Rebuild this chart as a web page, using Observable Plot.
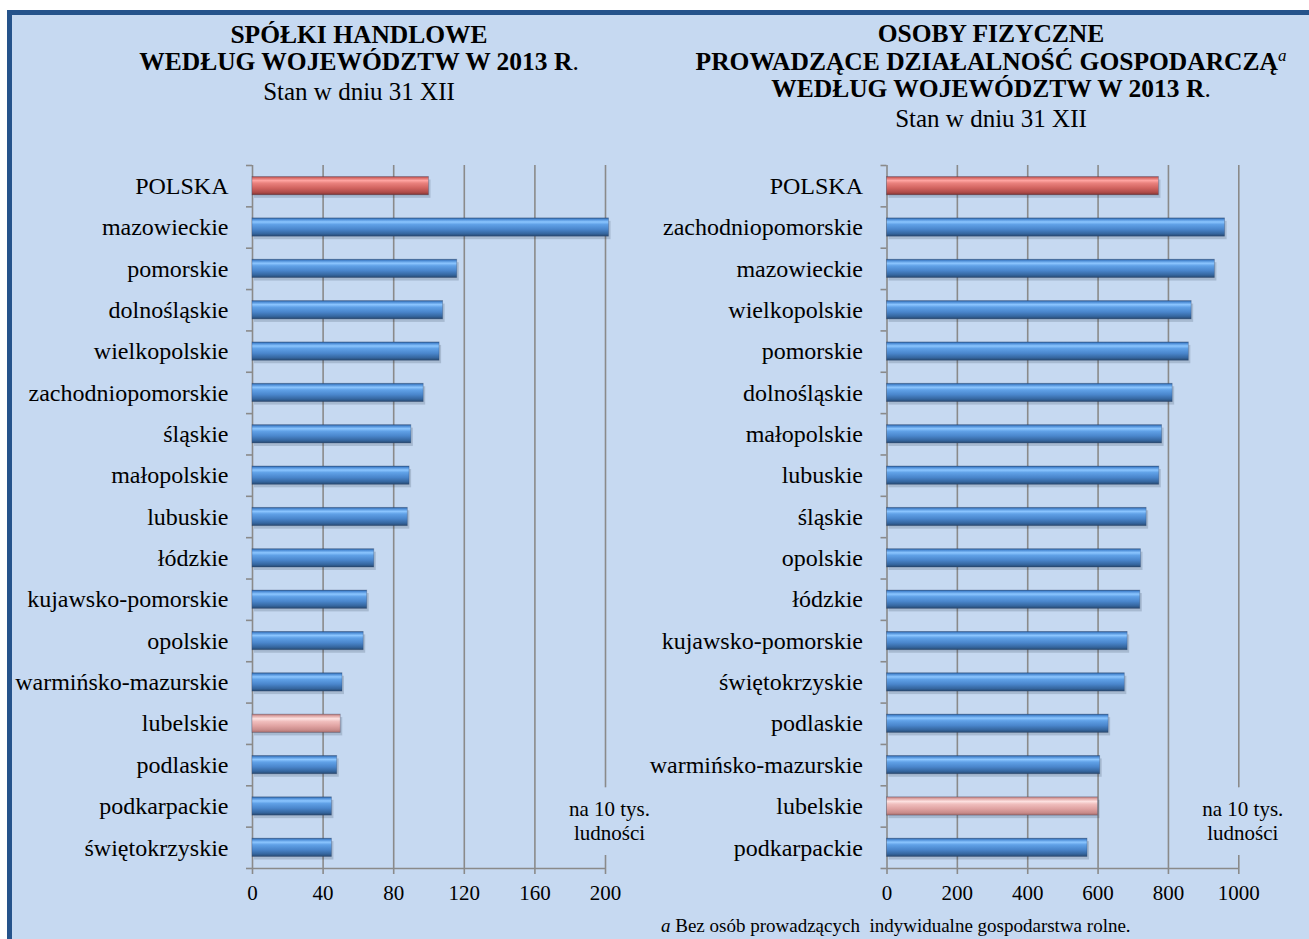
<!DOCTYPE html>
<html>
<head>
<meta charset="utf-8">
<script src="https://cdn.jsdelivr.net/npm/d3@7"></script>
<script src="https://cdn.jsdelivr.net/npm/@observablehq/plot@0.6"></script>
<style>
  html, body { margin: 0; padding: 0; background: #fff; }
  #page { position: relative; width: 1309px; height: 939px; overflow: hidden; background: #fff;
          font-family: "Liberation Serif", "Times New Roman", serif; }
  #panel { position: absolute; left: 7px; top: 10px; right: -20px; bottom: -20px;
           background: #c6d9f1; border-top: 5px solid #25538b; border-left: 5px solid #25538b; }
  #left { position: absolute; left: 0; top: 150px; }
  #right { position: absolute; left: 640px; top: 150px; }
  #overlay { position: absolute; left: 0; top: 0; pointer-events: none; }
</style>
</head>
<body>
<div id="page">
  <div id="panel"></div>
  <svg id="defs" width="0" height="0" style="position:absolute">
    <defs>
      <linearGradient id="gBlue" x1="0" y1="0" x2="0" y2="1">
        <stop offset="0%" stop-color="#2c5a92"/>
        <stop offset="8%" stop-color="#4b8bd5"/>
        <stop offset="22%" stop-color="#8cc6ff"/>
        <stop offset="36%" stop-color="#60a1e7"/>
        <stop offset="62%" stop-color="#4a86cc"/>
        <stop offset="86%" stop-color="#35669f"/>
        <stop offset="100%" stop-color="#27486f"/>
      </linearGradient>
      <linearGradient id="gRed" x1="0" y1="0" x2="0" y2="1">
        <stop offset="0%" stop-color="#a84442"/>
        <stop offset="8%" stop-color="#d86c69"/>
        <stop offset="22%" stop-color="#ffa5a2"/>
        <stop offset="36%" stop-color="#ea817d"/>
        <stop offset="62%" stop-color="#d26460"/>
        <stop offset="86%" stop-color="#b04c49"/>
        <stop offset="100%" stop-color="#7f3432"/>
      </linearGradient>
      <linearGradient id="gPink" x1="0" y1="0" x2="0" y2="1">
        <stop offset="0%" stop-color="#b27575"/>
        <stop offset="10%" stop-color="#dfa6a5"/>
        <stop offset="25%" stop-color="#fde2e1"/>
        <stop offset="40%" stop-color="#f0bebd"/>
        <stop offset="65%" stop-color="#e0a3a2"/>
        <stop offset="88%" stop-color="#c88a89"/>
        <stop offset="100%" stop-color="#9e6867"/>
      </linearGradient>
    </defs>
  </svg>
  <div id="left"></div>
  <div id="right"></div>
  <svg id="overlay" width="1309" height="939"></svg>
</div>
<script>
// ---------- DATA ----------
const regionsCompanies = ["POLSKA","mazowieckie","pomorskie","dolnośląskie","wielkopolskie","zachodniopomorskie","śląskie","małopolskie","lubuskie","łódzkie","kujawsko-pomorskie","opolskie","warmińsko-mazurskie","lubelskie","podlaskie","podkarpackie","świętokrzyskie"];
const valuesCompanies = [100, 202, 116, 108, 106, 97, 90, 89, 88, 69, 65, 63, 51, 50, 48, 45, 45];
const ticksCompanies = [0, 40, 80, 120, 160, 200];

const regionsPersons = ["POLSKA","zachodniopomorskie","mazowieckie","wielkopolskie","pomorskie","dolnośląskie","małopolskie","lubuskie","śląskie","opolskie","łódzkie","kujawsko-pomorskie","świętokrzyskie","podlaskie","warmińsko-mazurskie","lubelskie","podkarpackie"];
const valuesPersons = [773, 961, 932, 866, 858, 812, 782, 774, 738, 722, 720, 684, 676, 630, 606, 600, 570];
const ticksPersons = [0, 200, 400, 600, 800, 1000];

const totalName = "POLSKA";
const highlightNames = ["lubelskie"];
const unitLabel = "na 10 tys.\nludności";

const titleCompanies = ["SPÓŁKI HANDLOWE", "WEDŁUG WOJEWÓDZTW W 2013 R"];
const titlePersons = ["OSOBY FIZYCZNE", "PROWADZĄCE DZIAŁALNOŚĆ GOSPODARCZĄ", "WEDŁUG WOJEWÓDZTW W 2013 R"];
const subtitle = "Stan w dniu 31 XII";
const footnoteMark = "a";
const footnoteText = " Bez osób prowadzących\u00a0 indywidualne gospodarstwa rolne.";

// ---------- STYLE ----------
const BG = "#c6d9f1";
const GRID = "#8a8a8a";
const FONT = "'Liberation Serif', 'Times New Roman', serif";

function fillFor(name) {
  if (name === totalName) return "url(#gRed)";
  if (highlightNames.includes(name)) return "url(#gPink)";
  return "url(#gBlue)";
}

function makeChart(regions, values, ticks, width, marginLeft, marginRight) {
  const data = regions.map((r, i) => ({region: r, value: values[i]}));
  const height = 770, marginTop = 15, marginBottom = 52;
  const step = (height - marginTop - marginBottom) / regions.length;
  const last = regions[regions.length - 1];
  const labelOpts = {x: () => ticks[ticks.length - 1], y: () => regions[regions.length - 2], text: d => d,
                     dy: 14, dx: 4, fontSize: 21, lineHeight: 1.15};
  return Plot.plot({
    width, height, marginLeft, marginRight, marginTop, marginBottom,
    style: {background: "transparent", fontFamily: FONT, color: "#000", overflow: "visible"},
    x: {domain: [ticks[0], ticks[ticks.length - 1]], axis: null},
    y: {domain: regions, paddingInner: 0.557, paddingOuter: 0.2785, round: false, axis: null},
    color: {type: "identity"},
    marks: [
      Plot.ruleX(ticks, {stroke: GRID, strokeWidth: 1.6}),
      Plot.ruleY([last], {dy: step / 2, stroke: GRID, strokeWidth: 1.6}),
      Plot.axisY({tickSize: 6, tickFormat: () => "", dy: -step / 2, stroke: GRID, strokeWidth: 1.6, label: null}),
      Plot.axisY([last], {tickSize: 6, tickFormat: () => "", dy: step / 2, stroke: GRID, strokeWidth: 1.6, label: null}),
      Plot.axisY({tickSize: 0, tickPadding: 24, fontSize: 24, fill: "#000", label: null}),
      Plot.axisX({ticks, tickSize: 6, tickPadding: 11, fontSize: 21, fill: "#000", stroke: GRID, strokeWidth: 1.6,
                  tickFormat: d => String(d), label: null}),
      Plot.barX(data, {x: "value", y: "region", fill: "#1a2a40", fillOpacity: 0.18, dx: 2, dy: 3}),
      Plot.barX(data, {x: "value", y: "region", fill: d => fillFor(d.region), stroke: "#2a4060", strokeOpacity: 0.35, strokeWidth: 0.8}),
      Plot.text([unitLabel], {...labelOpts, fill: BG, stroke: BG, strokeWidth: 30, strokeLinejoin: "round"}),
      Plot.text([unitLabel], {...labelOpts, fill: "#000"})
    ]
  });
}

document.getElementById("left").appendChild(
  makeChart(regionsCompanies, valuesCompanies, ticksCompanies, 660, 252, 55));
document.getElementById("right").appendChild(
  makeChart(regionsPersons, valuesPersons, ticksPersons, 669, 246.5, 70.7));

// ---------- TITLES & FOOTNOTE ----------
const ov = d3.select("#overlay").style("font-family", FONT);
function titleLine(x, y, txt, bold, size, suffix) {
  const t = ov.append("text").attr("x", x).attr("y", y).attr("text-anchor", "middle")
    .attr("font-size", size).attr("font-weight", bold ? "bold" : "normal").attr("fill", "#000");
  t.append("tspan").text(txt);
  if (suffix) suffix(t);
  return t;
}
const dot = t => t.append("tspan").attr("font-weight", "normal").text(".");
const supA = t => t.append("tspan").attr("font-weight", "normal").attr("font-style", "italic")
  .attr("font-size", 17).attr("dy", -9).text(footnoteMark);

titleLine(359, 43, titleCompanies[0], true, 25.5);
titleLine(359, 70, titleCompanies[1], true, 25.5, dot);
titleLine(359, 100, subtitle, false, 25);

titleLine(991, 42, titlePersons[0], true, 25.5);
titleLine(991, 70, titlePersons[1], true, 25.5, supA);
titleLine(991, 97, titlePersons[2], true, 25.5, dot);
titleLine(991, 127, subtitle, false, 25);

const fn = ov.append("text").attr("x", 661).attr("y", 932).attr("font-size", 19).attr("fill", "#000")
  .attr("xml:space", "preserve");
fn.append("tspan").attr("font-style", "italic").text(footnoteMark);
fn.append("tspan").text(footnoteText);
</script>
</body>
</html>
